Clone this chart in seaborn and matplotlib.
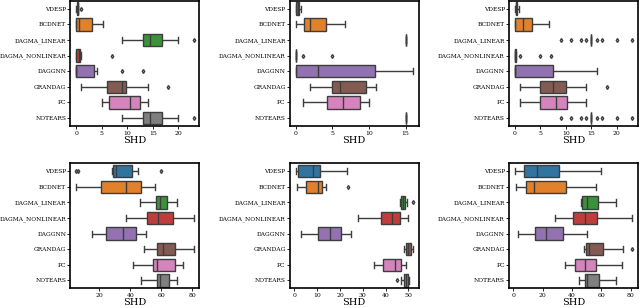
# Import libraries
import numpy as np
import pandas as pd
import seaborn as sns
import matplotlib.pyplot as plt

# -----------------------------
# Data (SHD per method, one list of samples per method)
# -----------------------------
methods = ["VDESP", "BCDNET", "DAGMA_LINEAR", "DAGMA_NONLINEAR",
           "DAGGNN", "GRANDAG", "PC", "NOTEARS"]

# top row
shd_top_left = [
    [0, 0.2, 0.2, 0.3, 0.3, 0.3, 0.4, 0.4, 0.9],
    [0, 0, 0, 0.3, 0.5, 1.5, 3.0, 4.0, 5.3],
    [9, 12, 13, 14, 14.5, 16, 16.8, 20, 23],
    [0, 0, 0, 0.3, 0.5, 0.6, 0.7, 1.0, 7],
    [0, 0, 0, 0, 0, 0, 0, 1, 2, 3.5, 4, 9, 13],
    [1, 4, 6, 8, 9, 9.5, 9.8, 14, 18],
    [5, 6, 6.5, 9, 10.5, 11, 12.5, 13, 14],
    [9, 12, 13, 14, 14.5, 16, 16.8, 20, 23],
]

shd_top_mid = [
    [0, 0.1, 0.1, 0.2, 0.3, 0.3, 0.4, 0.5, 0.7],
    [0, 0.5, 1.1, 1.5, 1.9, 3, 4.1, 5, 6.7],
    [15, 15, 15, 15, 15, 15, 15, 15, 15],
    [0, 0, 0, 0, 0, 0, 0, 1, 5],
    [0, 0, 0, 1, 3, 6, 10.8, 13, 16],
    [2, 4, 5, 5.5, 6, 8, 9.6, 10, 11],
    [1, 3, 4.3, 5, 6.5, 7.5, 8.8, 9, 10],
    [15, 15, 15, 15, 15, 15, 15, 15, 15],
]

shd_top_right = [
    [0, 0.1, 0.2, 0.3, 0.3, 0.4, 0.5, 0.6, 0.8],
    [0, 0, 0, 1, 1.5, 2, 3.4, 5, 6.7],
    [9, 11, 13, 14] + [15] * 25 + [16, 17, 20, 23],
    [0, 0, 0, 0, 0, 0, 0, 0, 0.2, 0.3, 1, 5, 7],
    [0, 0, 0, 0, 0, 3, 7.5, 12, 16],
    [1, 3, 5, 6, 7.5, 9, 10, 14, 18],
    [1, 3, 5, 7, 8, 9, 10.2, 12, 14],
    [9, 11, 13, 14] + [15] * 25 + [16, 17, 20, 23],
]

# bottom row
shd_bot_left = [
    [5, 6, 28, 29, 30, 30.5, 31, 35, 38, 41, 43, 45, 60],
    [5, 15, 21, 30, 37, 42, 47, 52, 56],
    [46, 52, 56.5, 58, 59, 62, 64, 67, 70],
    [37, 45, 51, 55, 58, 63, 67.5, 75, 81],
    [15, 20, 24, 30, 35, 40, 44, 47, 50],
    [49, 53, 57.5, 59, 61, 65, 69, 75, 81],
    [42, 50, 55, 56, 57, 63, 69, 72, 74],
    [47, 53, 57.5, 58, 59, 62, 65, 68, 70],
]

shd_bot_mid = [
    [0.5, 1, 1.5, 5, 8, 9, 11, 17, 23],
    [1, 3, 5, 8, 10.5, 11, 12, 14, 23.5],
    [46.5, 46.8, 47, 47.2, 47.5, 48, 48.5, 49.5, 52],
    [28, 33, 38, 41, 43, 45, 46.5, 48, 50],
    [3, 7, 10.5, 13, 15.5, 18, 20.5, 23, 25],
    [48, 48.5, 49, 49.5, 50, 50.5, 51, 51.5, 52],
    [35, 37, 39, 42, 44, 46, 47, 48, 49],
    [45, 47, 48.2, 48.5, 49, 49.5, 50, 50.2, 50.5],
]

shd_bot_right = [
    [1, 4, 7, 12, 16, 24, 31, 45, 60],
    [1.5, 5, 8.5, 11, 14, 25, 36, 46, 56],
    [46, 46.5, 47, 48, 50, 54, 58, 64, 70],
    [28, 35, 40.5, 45, 48.5, 53, 57, 70, 81],
    [3, 9, 15, 18, 22, 28, 34, 42, 50],
    [48, 49, 49.5, 50.5, 51.5, 56, 61, 75, 81],
    [35, 39, 42, 45, 48.5, 52, 56.5, 65, 74],
    [45, 47, 48.5, 49, 50, 54, 58.5, 64, 70],
]

panels = [shd_top_left, shd_top_mid, shd_top_right,
          shd_bot_left, shd_bot_mid, shd_bot_right]

# -----------------------------
# Plot
# -----------------------------
plt.rcParams['font.family'] = 'DejaVu Serif'

fig, axes = plt.subplots(2, 3, figsize=(6.4, 3.08), dpi=100)
plt.subplots_adjust(left=0.11, right=0.997, top=0.997, bottom=0.064,
                    wspace=0.70, hspace=0.30)

for ax, values in zip(axes.flat, panels):
    df = pd.DataFrame({
        'Method': np.repeat(methods, [len(v) for v in values]),
        'SHD': np.concatenate(values),
    })
    sns.boxplot(data=df, x='SHD', y='Method', hue='Method', palette='tab10',
                legend=False, ax=ax, linewidth=1, fliersize=2,
                flierprops={'marker': 'd'})
    ax.set_ylabel('')
    ax.set_xlabel('SHD', fontsize=7, labelpad=0)
    ax.tick_params(labelsize=4.4, length=2, width=0.6, pad=1.5)
    ax.tick_params(axis='y', labelsize=4.2, pad=1)
    for s in ax.spines.values():
        s.set_linewidth(1.2)

fig.savefig('out.png')
